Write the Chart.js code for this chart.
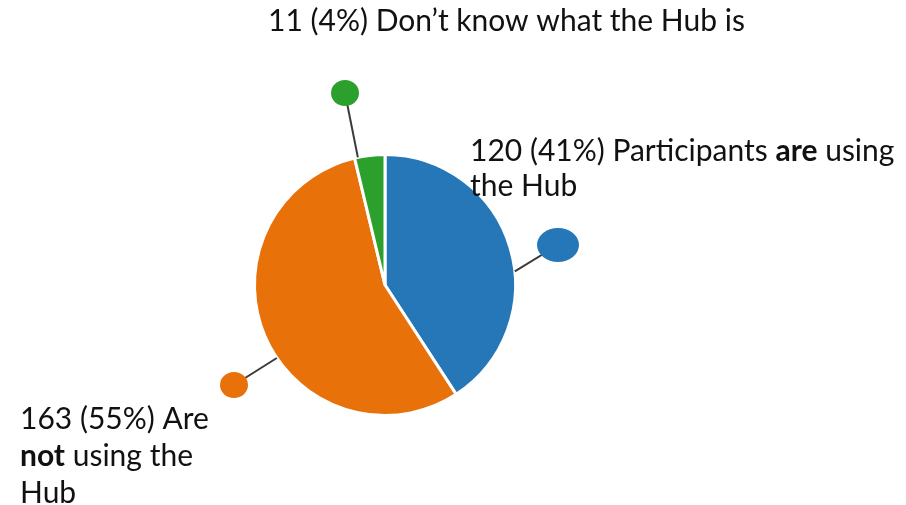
<!DOCTYPE html>
<html>
<head>
<meta charset="utf-8">
<script src="https://cdn.jsdelivr.net/npm/chart.js@4/dist/chart.umd.min.js"></script>
<style>
html, body { margin: 0; padding: 0; background: #fff; }
</style>
</head>
<body>
<canvas id="myChart" width="906" height="505"></canvas>
<script>
// data
var categories = ['Participants **are** using the Hub', 'Are **not** using the Hub', 'Don\u2019t know what the Hub is'];
var counts = [120, 163, 11];
var colours = ['#2677b7', '#e8710a', '#2ca02c'];

// callout layout: rim angle (deg, clockwise from top), dot centre + radii, text origin, wrap width
var callouts = [
    {angle: 84, dot: [558, 245], rx: 21, ry: 17, text: [470, 151], maxWidth: 430, lineHeight: 35},
    {angle: 236, dot: [234, 385], rx: 14, ry: 13, text: [20, 419], maxWidth: 210, lineHeight: 37},
    {angle: 348, dot: [345, 93], rx: 14, ry: 13, text: [268, 21], maxWidth: 800, lineHeight: 36}
];
var FONT = 'Lato, "Open Sans", sans-serif';
var FONT_SIZE = 30;

function parseRich(str) { // '**x**' -> bold words
    var words = [];
    str.split('**').forEach(function(part, i) {
        part.split(' ').forEach(function(w) {
            if (w !== '') words.push({t: w, bold: i % 2 == 1});
        });
    });
    return words;
}

function setFont(ctx, bold) {
    ctx.font = (bold ? '700 ' : '400 ') + FONT_SIZE + 'px ' + FONT;
}

function wordWidth(ctx, w) { setFont(ctx, w.bold); return ctx.measureText(w.t).width; }

var calloutPlugin = {
    id: 'callouts',
    afterDraw: function(chart) {
        var ctx = chart.ctx;
        var meta = chart.getDatasetMeta(0);
        var total = counts.reduce(function(a, b) { return a + b; }, 0);
        ctx.save();
        meta.data.forEach(function(arc, i) {
            var c = callouts[i];
            var a = c.angle * Math.PI / 180;
            var r = arc.outerRadius;
            var sx = arc.x + r * Math.sin(a), sy = arc.y - r * Math.cos(a);
            // leader line
            ctx.strokeStyle = '#3a3a3a';
            ctx.lineWidth = 2;
            ctx.beginPath();
            ctx.moveTo(sx, sy);
            ctx.lineTo(c.dot[0], c.dot[1]);
            ctx.stroke();
            // dot
            ctx.fillStyle = colours[i];
            ctx.beginPath();
            ctx.ellipse(c.dot[0], c.dot[1], c.rx, c.ry, 0, 0, Math.PI * 2);
            ctx.fill();
            // label text
            var pct = Math.round(counts[i] / total * 100);
            var words = parseRich(counts[i] + ' (' + pct + '%) ' + categories[i]);
            setFont(ctx, false);
            var space = ctx.measureText(' ').width;
            var lines = [[]], lw = 0;
            words.forEach(function(w) {
                var ww = wordWidth(ctx, w);
                var cur = lines[lines.length - 1];
                if (cur.length && lw + space + ww > c.maxWidth) {
                    lines.push([w]); lw = ww;
                } else {
                    lw += (cur.length ? space : 0) + ww;
                    cur.push(w);
                }
            });
            ctx.fillStyle = '#111';
            ctx.textBaseline = 'middle';
            lines.forEach(function(line, li) {
                var x = c.text[0], y = c.text[1] + li * c.lineHeight;
                line.forEach(function(w) {
                    setFont(ctx, w.bold);
                    ctx.fillText(w.t, x, y);
                    x += ctx.measureText(w.t).width + space;
                });
            });
        });
        ctx.restore();
    }
};

var config = {
    type: 'pie',
    data: {
        labels: categories,
        datasets: [{
            data: counts,
            backgroundColor: colours,
            borderColor: '#ffffff',
            borderWidth: 3
        }]
    },
    options: {
        responsive: false,
        animation: false,
        layout: {
            padding: {left: 253, right: 389, top: 153, bottom: 88}
        },
        plugins: {
            legend: {display: false},
            tooltip: {enabled: false}
        }
    },
    plugins: [calloutPlugin]
};
var ctx = document.getElementById('myChart').getContext('2d');
var chart = new Chart(ctx, config);
</script>
</body>
</html>
